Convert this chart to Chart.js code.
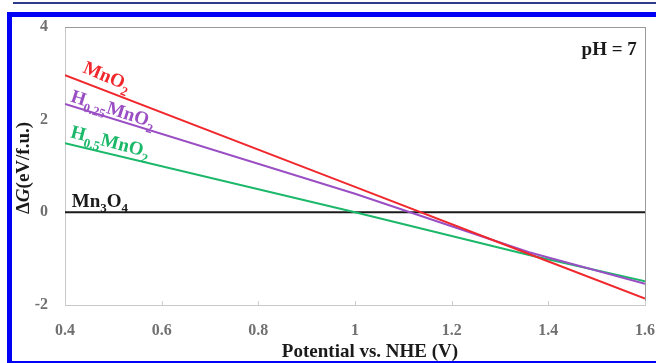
<!DOCTYPE html>
<html>
<head>
<meta charset="utf-8">
<script src="https://cdn.jsdelivr.net/npm/chart.js@4/dist/chart.umd.min.js"></script>
<style>
  html, body { margin: 0; padding: 0; background: #fff; width: 656px; height: 363px; overflow: hidden; }
  #topLine { position: absolute; left: 13px; top: 2px; width: 643px; height: 2px; background: #2e3c8c; }
  #frame { position: absolute; left: 7px; top: 12px; width: 680px; height: 344px;
           border-left: 5px solid #0000f5; border-top: 5px solid #0000f5; border-bottom: 2px solid #0000f5; }
  #wrap { position: absolute; left: 12px; top: 17px; width: 644px; height: 344px; }
</style>
</head>
<body>
<div id="topLine"></div>
<div id="frame"></div>
<div id="wrap"><canvas id="chart"></canvas></div>
<script>
// Potential vs. NHE (V) sample points
const potentials = [0.4, 1.0, 1.36, 1.6];

// Delta G (eV/f.u.) for each phase
const mno2 = [2.96, 0.55, -0.90, -1.86];
const h025mno2 = [2.34, 0.40, -0.86, -1.54];
const h05mno2 = [1.49, 0.0, -0.92, -1.49];
const mn3o4 = [0, 0, 0, 0];

const xTicks = [0.4, 0.6, 0.8, 1.0, 1.2, 1.4, 1.6];
const yTicks = [-2, 0, 2, 4];

const seriesNames = ['MnO2', 'H0.25MnO2', 'H0.5MnO2', 'Mn3O4'];
const seriesColors = ['#f0282d', '#9a4ec4', '#1cb86a', '#1a1a1a'];

const serif = '"Liberation Serif", "DejaVu Serif", serif';

function toPoints(ys) {
  return potentials.map((x, i) => ({ x: x, y: ys[i] }));
}

// rich text: parts are [text, sub, italic]
function drawRich(ctx, x, y, angle, parts, color, size, center) {
  ctx.save();
  ctx.translate(x, y);
  ctx.rotate(angle * Math.PI / 180);
  ctx.fillStyle = color;
  ctx.textBaseline = 'alphabetic';
  ctx.textAlign = 'left';
  const fontFor = p => `${p[2] ? 'italic ' : ''}bold ${p[1] ? Math.round(size * 0.7) : size}px ${serif}`;
  let total = 0;
  for (const p of parts) { ctx.font = fontFor(p); total += ctx.measureText(p[0]).width; }
  let cx = center ? -total / 2 : 0;
  for (const p of parts) {
    ctx.font = fontFor(p);
    ctx.fillText(p[0], cx, p[1] ? size * 0.3 : 0);
    cx += ctx.measureText(p[0]).width;
  }
  ctx.restore();
}

// in-plot labels, anchored in data coordinates
const lineLabels = [
  { x: 0.435, y: 3.03, angle: 23, color: seriesColors[0], parts: [['MnO', 0], ['2', 1]] },
  { x: 0.41, y: 2.40, angle: 18, color: seriesColors[1], parts: [['H', 0], ['0.25', 1], ['MnO', 0], ['2', 1]] },
  { x: 0.41, y: 1.62, angle: 14.5, color: seriesColors[2], parts: [['H', 0], ['0.5', 1], ['MnO', 0], ['2', 1]] },
  { x: 0.414, y: 0.12, angle: 0, color: '#1a1a1a', parts: [['Mn', 0], ['3', 1], ['O', 0], ['4', 1]] }
];

const decorPlugin = {
  id: 'decor',
  beforeDatasetsDraw(chart) {
    const { ctx, chartArea: a, scales } = chart;
    ctx.save();
    ctx.lineWidth = 1;
    ctx.strokeStyle = '#c8c8c8';
    ctx.strokeRect(a.left + 0.5, a.top + 0.5, a.right - a.left, a.bottom - a.top);
    ctx.strokeStyle = '#9a9a9a';
    ctx.beginPath();
    ctx.moveTo(a.right + 0.5, a.top);
    ctx.lineTo(a.right + 0.5, a.bottom);
    ctx.moveTo(a.left, a.top + 0.5);
    ctx.lineTo(a.right, a.top + 0.5);
    ctx.stroke();
    // small inward tick marks on the x axis
    ctx.strokeStyle = '#cfcfcf';
    ctx.beginPath();
    for (const t of xTicks) {
      const px = Math.round(scales.x.getPixelForValue(t)) + 0.5;
      ctx.moveTo(px, a.bottom);
      ctx.lineTo(px, a.bottom - 4);
    }
    ctx.stroke();
    ctx.restore();
  },
  afterDatasetsDraw(chart) {
    const { ctx, chartArea: a, scales } = chart;
    for (const l of lineLabels) {
      drawRich(ctx, scales.x.getPixelForValue(l.x), scales.y.getPixelForValue(l.y), l.angle, l.parts, l.color, 19, false);
    }
    // pH label
    ctx.save();
    ctx.font = `bold 19px ${serif}`;
    ctx.fillStyle = '#1a1a1a';
    ctx.textAlign = 'right';
    ctx.fillText('pH = 7', scales.x.getPixelForValue(1.583), scales.y.getPixelForValue(3.40));
    ctx.restore();
    // axis titles
    drawRich(ctx, (a.left + a.right) / 2 + 15, chart.height - 4, 0, [['Potential vs. NHE (V)', 0]], '#1a1a1a', 19, true);
    drawRich(ctx, 17, (a.top + a.bottom) / 2 + 2, -90, [['\u0394', 0], ['G', 0, 1], ['(eV/f.u.)', 0]], '#1a1a1a', 19, true);
  }
};

function makeSet(label, data, color, width) {
  return {
    label: label,
    data: toPoints(data),
    borderColor: color,
    backgroundColor: color,
    borderWidth: width,
    pointRadius: 0,
    tension: 0,
    fill: false
  };
}

new Chart(document.getElementById('chart').getContext('2d'), {
  type: 'line',
  data: {
    datasets: [
      makeSet(seriesNames[0], mno2, seriesColors[0], 2),
      makeSet(seriesNames[1], h025mno2, seriesColors[1], 2),
      makeSet(seriesNames[2], h05mno2, seriesColors[2], 2),
      makeSet(seriesNames[3], mn3o4, seriesColors[3], 2)
    ]
  },
  options: {
    responsive: true,
    maintainAspectRatio: false,
    animation: false,
    layout: { padding: { left: 0, top: 10, right: 11, bottom: 0 } },
    plugins: {
      legend: { display: false },
      tooltip: { enabled: false }
    },
    scales: {
      x: {
        type: 'linear',
        min: 0.4,
        max: 1.6,
        afterBuildTicks: scale => { scale.ticks = xTicks.map(v => ({ value: v })); },
        afterFit: scale => { scale.height = 56; scale.paddingLeft = 0; scale.paddingRight = 0; },
        grid: { display: false, drawTicks: false },
        border: { display: false },
        ticks: {
          padding: 16,
          color: '#707070',
          font: { family: serif, size: 16, weight: 'bold' },
          callback: v => String(Number(v.toFixed(1)))
        }
      },
      y: {
        min: -2,
        max: 4,
        afterBuildTicks: scale => { scale.ticks = yTicks.map(v => ({ value: v })); },
        afterFit: scale => { scale.width = 53; scale.paddingTop = 0; scale.paddingBottom = 0; },
        grid: { display: false, drawTicks: false },
        border: { display: false },
        ticks: {
          padding: 17,
          color: '#707070',
          font: { family: serif, size: 16, weight: 'bold' }
        }
      }
    }
  },
  plugins: [decorPlugin]
});
</script>
</body>
</html>
